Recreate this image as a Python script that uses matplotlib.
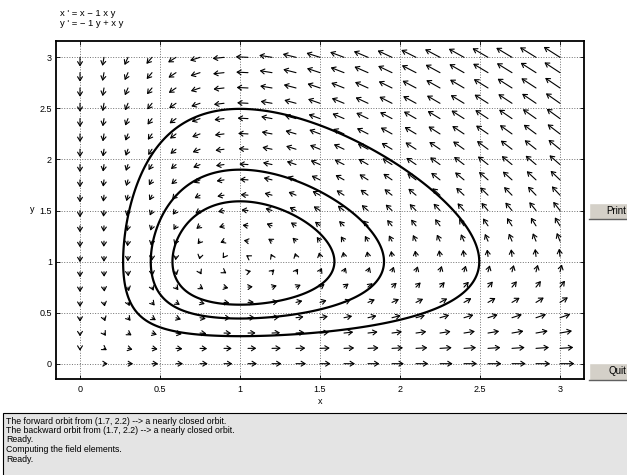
import numpy as np
import matplotlib
matplotlib.use("Agg")
import matplotlib.pyplot as plt
from matplotlib.patches import FancyArrowPatch, Rectangle

plt.rcParams['font.family'] = ['Liberation Sans', 'DejaVu Sans']

# system: x' = a x - b x y,  y' = -c y + d x y
a, b, c, d = 1.0, 1.0, 1.0, 1.0
equation_lines = ["x ' = x \u2212 1 x y", "y ' = \u2212 1 y + x y"]

# direction field sample points
field_x = np.linspace(0, 3, 21)
field_y = np.linspace(0, 3, 21)

# initial points of the three closed orbits
orbit_starts = [(1.7, 2.2), (1.0, 1.9), (1.0, 1.59)]

x_ticks = [0, 0.5, 1, 1.5, 2, 2.5, 3]
y_ticks = [0, 0.5, 1, 1.5, 2, 2.5, 3]
x_tick_labels = ["0", "0.5", "1", "1.5", "2", "2.5", "3"]
y_tick_labels = ["0", "0.5", "1", "1.5", "2", "2.5", "3"]

messages = [
    "The forward orbit from (1.7, 2.2) --> a nearly closed orbit.",
    "The backward orbit from (1.7, 2.2) --> a nearly closed orbit.",
    "Ready.",
    "Computing the field elements.",
    "Ready.",
]

W, H_px = 627, 475
fig = plt.figure(figsize=(W / 100, H_px / 100), dpi=100)
fig.patch.set_facecolor('white')


def fx(px):
    return px / W


def fy(py):
    return 1 - py / H_px


ax = fig.add_axes([fx(56), fy(379), fx(584) - fx(56), fy(41) - fy(379)])
ax.set_xlim(-0.15, 3.15)
ax.set_ylim(-0.15, 3.16)

# direction field, arrow length grows sublinearly with speed
arrow_scale, arrow_power = 0.055, 0.45
for xv in field_x:
    for yv in field_y:
        u = a * xv - b * xv * yv
        v = -c * yv + d * xv * yv
        m = np.hypot(u, v)
        if m == 0:
            continue
        L = arrow_scale * m ** arrow_power
        arr = FancyArrowPatch((xv, yv), (xv + u / m * L, yv + v / m * L),
                              arrowstyle='->,head_length=0.4,head_width=0.25',
                              mutation_scale=7, lw=0.8, color='black',
                              shrinkA=0, shrinkB=0, zorder=3)
        ax.add_patch(arr)

# orbits are level sets of the conserved quantity
gx = np.linspace(0.02, 3.15, 700)
gy = np.linspace(0.02, 3.16, 700)
X, Y = np.meshgrid(gx, gy)
Hfun = lambda x, y: d * x - c * np.log(x) + b * y - a * np.log(y)
levels = sorted(Hfun(x0, y0) for x0, y0 in orbit_starts)
ax.contour(X, Y, Hfun(X, Y), levels=levels, colors='black', linewidths=1.6, zorder=4)

ax.set_xticks(x_ticks)
ax.set_xticklabels(x_tick_labels)
ax.set_yticks(y_ticks)
ax.set_yticklabels(y_tick_labels)
ax.tick_params(direction='in', length=3, width=0.6, labelsize=6.5,
               top=True, right=True)
ax.tick_params(axis='x', pad=4)
ax.tick_params(axis='y', pad=3)
ax.grid(True, linestyle=':', color='#707070', linewidth=0.7)
for s in ax.spines.values():
    s.set_linewidth(1.3)

ax.set_xlabel('x', fontsize=6.5)
ax.xaxis.set_label_coords(0.5, -0.052)
ax.set_ylabel('y', fontsize=6.5, rotation=0, va='center')
ax.yaxis.set_label_coords(-0.045, 0.5)

for i, line in enumerate(equation_lines):
    fig.text(fx(60), fy(14 + 9 * i), line, fontsize=6.8, va='center', ha='left')

# push buttons on the right
for label, top, bottom in [("Print", 203, 219), ("Quit", 363, 380)]:
    face = Rectangle((fx(589), fy(bottom)), fx(60), fy(top) - fy(bottom),
                     transform=fig.transFigure, facecolor='#d4d0c8',
                     edgecolor='none')
    fig.add_artist(face)
    fig.add_artist(plt.Line2D([fx(589), fx(589), fx(640)], [fy(bottom), fy(top), fy(top)],
                              transform=fig.transFigure, color='white', lw=1))
    fig.add_artist(plt.Line2D([fx(589), fx(640)], [fy(bottom), fy(bottom)],
                              transform=fig.transFigure, color='#606060', lw=1))
    fig.text(fx(626), (fy(top) + fy(bottom)) / 2, label, fontsize=7,
             ha='right', va='center')

# message box
box = Rectangle((fx(3), fy(480)), fx(640), fy(413) - fy(480),
                transform=fig.transFigure, facecolor='#e4e4e4',
                edgecolor='black', lw=0.8)
fig.add_artist(box)
for i, msg in enumerate(messages):
    fig.text(fx(6), fy(421 + 9.5 * i), msg, fontsize=6.3, va='center', ha='left')

fig.savefig('out.png', dpi=100)
